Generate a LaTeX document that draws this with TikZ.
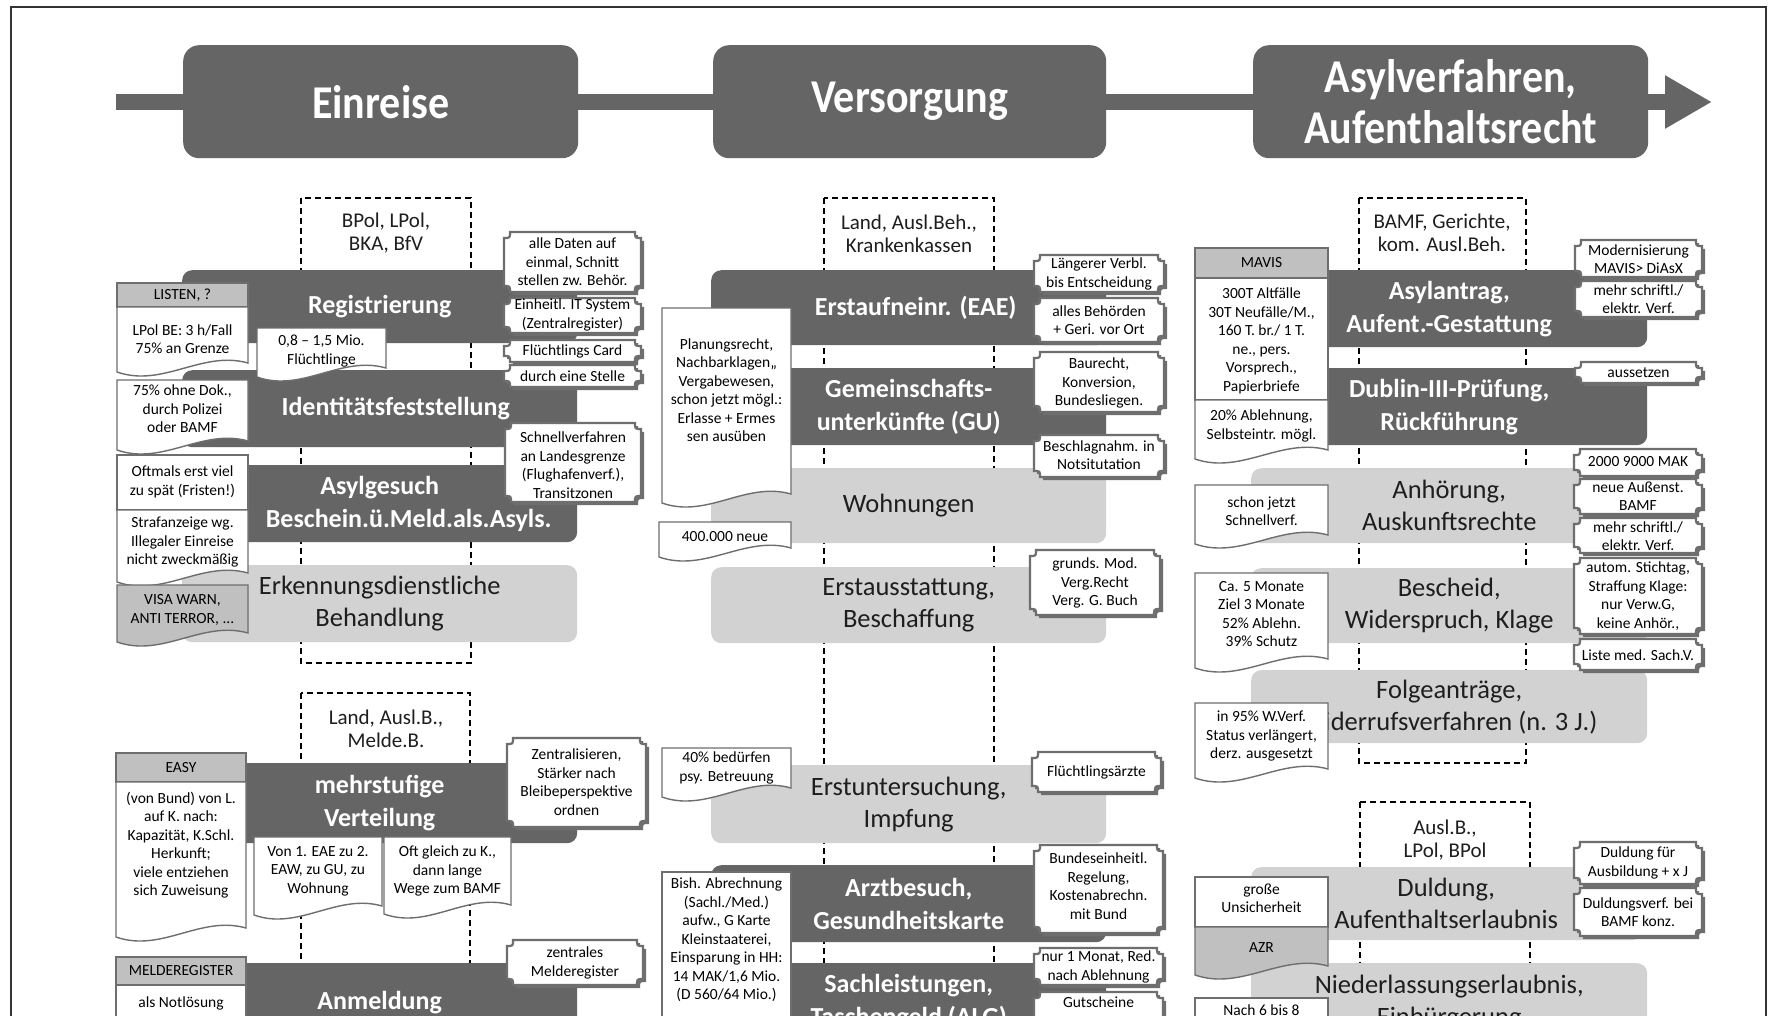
\documentclass[tikz,border=0pt]{standalone}
\usepackage{fontspec}
\setmainfont{Carlito}
\usepackage{graphicx}
\usetikzlibrary{arrows.meta}
\definecolor{dk}{HTML}{656565}
\definecolor{lt}{HTML}{D2D2D2}
\definecolor{hd}{HTML}{C0C0C0}
\definecolor{ln}{HTML}{6E6E6E}
\definecolor{tx}{HTML}{1E1E1E}
\tikzset{
 dkbox/.style={fill=dk, rounded corners=10pt, anchor=north west, inner sep=0pt, align=center, text=white, font=\fontsize{26}{33}\selectfont\bfseries},
 ltbox/.style={fill=lt, rounded corners=10pt, anchor=north west, inner sep=0pt, align=center, text=tx, font=\fontsize{26.5}{32}\selectfont},
 phase/.style={fill=dk, rounded corners=16pt, anchor=north west, inner sep=0pt, align=center, text=white, font=\fontsize{42}{51}\selectfont\bfseries},
 acttext/.style={align=center, inner sep=0pt, font=\fontsize{21}{23}\selectfont, text=tx},
 dashbox/.style={draw=black, line width=1.8pt, dash pattern=on 6pt off 4pt},
 smalltext/.style={align=center, inner sep=0pt, font=\fontsize{15.5}{18.5}\selectfont, text=black},
 wnote/.style={fill=white, draw=ln, line width=1.4pt},
 gnote/.style={fill=hd, draw=ln, line width=1.4pt},
 plqline/.style={fill=white, draw=ln, line width=2.2pt},
 plqshadow/.style={fill=ln},
 timeline/.style={draw=dk, line width=16pt, -{Triangle[length=47pt,width=50pt]}},
}
% document-shaped note: style, name, x1, y1, x2, y2, text y, text
\newcommand{\docnote}[8]{%
  \path[#1] ({#3},{#4}) -- ({#5},{#4}) -- ({#5},{#6-9}) .. controls ({#5-0.35*(#5-#3)},{#6-22}) and ({#3+0.35*(#5-#3)},{#6+16}) .. ({#3},{#6}) -- cycle;
  \node[smalltext] (#2) at ({(#3+#5)/2},{#7}) {#8};
}
% rectangular note: style, name, x1, y1, x2, y2, text y, text
\newcommand{\rectnote}[8]{%
  \path[#1] ({#3},{#4}) rectangle ({#5},{#6});
  \node[smalltext] (#2) at ({(#3+#5)/2},{#7}) {#8};
}
% plaque callout: name, x1, y1, x2, y2, text y, text
\newcommand{\plaquebox}[7]{%
  \path[plqshadow, shift={(3,3)}] ({#2+6},{#3}) -- ({#4-6},{#3}) .. controls ({#4-6},{#3+6}) .. ({#4},{#3+6}) -- ({#4},{#5-6}) .. controls ({#4-6},{#5-6}) .. ({#4-6},{#5}) -- ({#2+6},{#5}) .. controls ({#2+6},{#5-6}) .. ({#2},{#5-6}) -- ({#2},{#3+6}) .. controls ({#2+6},{#3+6}) .. ({#2+6},{#3}) -- cycle;
  \path[plqline] ({#2+6},{#3}) -- ({#4-6},{#3}) .. controls ({#4-6},{#3+6}) .. ({#4},{#3+6}) -- ({#4},{#5-6}) .. controls ({#4-6},{#5-6}) .. ({#4-6},{#5}) -- ({#2+6},{#5}) .. controls ({#2+6},{#5-6}) .. ({#2},{#5-6}) -- ({#2},{#3+6}) .. controls ({#2+6},{#3+6}) .. ({#2+6},{#3}) -- cycle;
  \node[smalltext] (#1) at ({(#2+#4)/2},{#6}) {#7};
}
\begin{document}
\begin{tikzpicture}[x=1pt,y=-1pt]
\useasboundingbox (0,0) rectangle (1769,1015);
\fill[white] (0,0) rectangle (1769,1015);
\clip (0,0) rectangle (1769,1015);
% frame
\draw[line width=1.5pt, black!80] (11,1030) -- (11,7) -- (1766,7) -- (1766,1030);
% timeline
\coordinate (tl0) at (116,102);
\coordinate (tl1) at (1712,102);
\draw[timeline] (tl0) -- (tl1);
% phases
\node[phase, minimum width=395pt, minimum height=113pt] (ph1) at (183,45) {\scalebox{1}[1.12]{Einreise}};
\node[phase, minimum width=393pt, minimum height=113pt] (ph2) at (713,45) {\scalebox{1}[1.12]{Versorgung}};
\node[phase, minimum width=395pt, minimum height=113pt] (ph3) at (1253,45) {\scalebox{1}[1.12]{Asylverfahren,}\\\scalebox{1}[1.12]{Aufenthaltsrecht}};
% actor dashed boxes
\draw[dashbox] (301,198) rectangle (471,663);
\draw[dashbox] (301,693) rectangle (470,1060);
\draw[dashbox] (824,198) rectangle (994,1060);
\draw[dashbox] (1359,198) rectangle (1526,763);
\draw[dashbox] (1360,802) rectangle (1530,1060);
\node[acttext] (actA) at (386,233) {BPol, LPol,\\BKA, BfV};
\node[acttext] (actB) at (386,729) {Land, Ausl.B.,\\Melde.B.};
\node[acttext] (actC) at (909,234) {Land, Ausl.Beh.,\\Krankenkassen};
\node[acttext] (actD) at (1442,233) {BAMF, Gerichte,\\kom. Ausl.Beh.};
\node[acttext] (actE) at (1445,840) {Ausl.B.,\\LPol, BPol};
% left column process boxes
\node[dkbox, minimum width=395pt, minimum height=73pt] (reg) at (182,270) {Registrierung};
\node[dkbox, minimum width=395pt, minimum height=77pt] (ident) at (182,370) {\hspace*{32pt}Identitätsfeststellung};
\node[dkbox, minimum width=395pt, minimum height=77pt] (asylg) at (182,465) {Asylgesuch\\\hspace*{58pt}Beschein.ü.Meld.als.Asyls.};
\node[ltbox, minimum width=395pt, minimum height=77pt] (erk) at (182,565) {Erkennungsdienstliche\\Behandlung};
\node[dkbox, minimum width=395pt, minimum height=80pt] (vert) at (182,763) {mehrstufige\\Verteilung};
\node[dkbox, minimum width=395pt, minimum height=78pt] (anm) at (182,963) {Anmeldung};
% middle column process boxes
\node[dkbox, minimum width=395pt, minimum height=75pt] (eae) at (711,270) {\hspace*{14pt}Erstaufneinr. (EAE)};
\node[dkbox, minimum width=395pt, minimum height=77pt] (gu) at (711,368) {Gemeinschafts-\\unterkünfte (GU)};
\node[ltbox, minimum width=395pt, minimum height=75pt] (wohn) at (711,468) {Wohnungen};
\node[ltbox, minimum width=395pt, minimum height=76pt] (erst) at (711,567) {Erstausstattung,\\Beschaffung};
\node[ltbox, minimum width=395pt, minimum height=78pt] (unters) at (711,765) {Erstuntersuchung,\\Impfung};
\node[dkbox, minimum width=395pt, minimum height=77pt] (arzt) at (711,865) {Arztbesuch,\\Gesundheitskarte};
\node[dkbox, minimum width=395pt, minimum height=78pt] (sach) at (711,963) {Sachleistungen,\\Taschengeld (ALG)};
% right column process boxes
\node[dkbox, minimum width=396pt, minimum height=77pt] (asyla) at (1251,270) {Asylantrag,\\Aufent.-Gestattung};
\node[dkbox, minimum width=396pt, minimum height=77pt] (dublin) at (1251,368) {Dublin-III-Prüfung,\\Rückführung};
\node[ltbox, minimum width=396pt, minimum height=75pt] (anh) at (1251,468) {Anhörung,\\Auskunftsrechte};
\node[ltbox, minimum width=396pt, minimum height=75pt] (besch) at (1251,568) {Bescheid,\\Widerspruch, Klage};
\node[ltbox, minimum width=396pt, minimum height=73pt] (folge) at (1251,670) {Folgeanträge,\\Widerrufsverfahren (n. 3 J.)};
\node[ltbox, minimum width=390pt, minimum height=73pt] (duld) at (1251,867) {Duldung,\\Aufenthaltserlaubnis};
\node[ltbox, minimum width=396pt, minimum height=78pt] (nied) at (1251,963) {Niederlassungserlaubnis,\\Einbürgerung};
% left column notes
\rectnote{gnote}{listen}{117}{283}{248}{307}{295}{LISTEN, ?}
\docnote{wnote}{lpol}{117}{307}{248}{372}{339}{LPol BE: 3 h/Fall\\75\% an Grenze}
\docnote{wnote}{ohne}{117}{380}{248}{450}{409}{75\% ohne Dok.,\\durch Polizei\\oder BAMF}
\rectnote{wnote}{oft}{117}{455}{248}{510}{482}{Oftmals erst viel\\zu spät (Fristen!)}
\docnote{wnote}{straf}{117}{510}{248}{582}{542}{Strafanzeige wg.\\Illegaler Einreise\\nicht zweckmäßig}
\docnote{gnote}{visa}{117}{585}{248}{642}{610}{VISA WARN,\\ANTI TERROR, ...}
\docnote{wnote}{mio}{257}{328}{386}{377}{351}{0,8 – 1,5 Mio.\\Flüchtlinge}
\rectnote{gnote}{easy}{116}{753}{246}{782}{768}{EASY}
\docnote{wnote}{easyn}{116}{782}{246}{937}{845}{(von Bund) von L.\\auf K. nach:\\Kapazität, K.Schl.\\Herkunft;\\viele entziehen\\sich Zuweisung}
\docnote{wnote}{eaez}{254}{837}{382}{915}{871}{Von 1. EAE zu 2.\\EAW, zu GU, zu\\Wohnung}
\docnote{wnote}{wege}{384}{837}{511}{914}{871}{Oft gleich zu K.,\\dann lange\\Wege zum BAMF}
\rectnote{gnote}{melde}{116}{957}{246}{985}{971}{MELDEREGISTER}
\rectnote{wnote}{notl}{116}{985}{246}{1060}{1003}{als Notlösung}
% left column plaques
\plaquebox{pa}{504}{232}{641}{292}{262}{alle Daten auf\\einmal, Schnitt\\stellen zw. Behör.}
\plaquebox{pb}{504}{298}{641}{333}{315}{Einheitl. IT System\\(Zentralregister)}
\plaquebox{pc}{504}{340}{641}{362}{351}{Flüchtlings Card}
\plaquebox{pd}{504}{365}{641}{387}{376}{durch eine Stelle}
\plaquebox{pe}{505}{423}{641}{502}{465}{Schnellverfahren\\an Landesgrenze\\(Flughafenverf.),\\Transitzonen}
\plaquebox{pf}{507}{738}{646}{827}{782}{Zentralisieren,\\Stärker nach\\Bleibeperspektive\\ordnen}
\plaquebox{pg}{507}{940}{643}{985}{963}{zentrales\\Melderegister}
% middle column notes
\docnote{wnote}{plan}{662}{308}{791}{503}{390}{Planungsrecht,\\Nachbarklagen,,\\Vergabewesen,\\schon jetzt mögl.:\\Erlasse + Ermes\\sen ausüben}
\docnote{wnote}{neu}{659}{522}{791}{557}{537}{400.000 neue}
\docnote{wnote}{psy}{662}{748}{791}{797}{768}{40\% bedürfen\\psy. Betreuung}
\rectnote{wnote}{bish}{662}{872}{791}{1060}{940}{Bish. Abrechnung\\(Sachl./Med.)\\aufw., G Karte\\Kleinstaaterei,\\Einsparung in HH:\\14 MAK/1,6 Mio.\\(D 560/64 Mio.)}
% middle column plaques
\plaquebox{pm1}{1034}{255}{1164}{292}{274}{Längerer Verbl.\\bis Entscheidung}
\plaquebox{pm2}{1034}{298}{1164}{342}{320}{alles Behörden\\+ Geri. vor Ort}
\plaquebox{pm3}{1034}{352}{1164}{412}{383}{Baurecht,\\Konversion,\\Bundesliegen.}
\plaquebox{pm4}{1034}{435}{1164}{477}{455}{Beschlagnahm. in\\Notsitutation}
\plaquebox{pm5}{1030}{550}{1160}{615}{583}{grunds. Mod.\\Verg.Recht\\Verg. G. Buch}
\plaquebox{pm6}{1032}{752}{1161}{792}{772}{Flüchtlingsärzte}
\plaquebox{pm7}{1034}{845}{1163}{933}{886}{Bundeseinheitl.\\Regelung,\\Kostenabrechn.\\mit Bund}
\plaquebox{pm8}{1034}{948}{1163}{985}{967}{nur 1 Monat, Red.\\nach Ablehnung}
\plaquebox{pm9}{1034}{992}{1163}{1060}{1002}{Gutscheine}
% right column notes
\rectnote{gnote}{mavis}{1195}{248}{1328}{278}{263}{MAVIS}
\rectnote{wnote}{alt}{1195}{278}{1328}{400}{341}{300T Altfälle\\30T Neufälle/M.,\\160 T. br./ 1 T.\\ne., pers.\\Vorsprech.,\\Papierbriefe}
\docnote{wnote}{abl}{1195}{400}{1328}{459}{426}{20\% Ablehnung,\\Selbsteintr. mögl.}
\docnote{wnote}{schon}{1195}{485}{1328}{544}{511}{schon jetzt\\Schnellverf.}
\docnote{wnote}{ca}{1195}{573}{1328}{668}{614}{Ca. 5 Monate\\Ziel 3 Monate\\52\% Ablehn.\\39\% Schutz}
\docnote{wnote}{wv}{1195}{703}{1328}{778}{736}{in 95\% W.Verf.\\Status verlängert,\\derz. ausgesetzt}
\rectnote{wnote}{gross}{1195}{877}{1328}{927}{898}{große\\Unsicherheit}
\docnote{gnote}{azr}{1195}{927}{1328}{975}{948}{AZR}
\rectnote{wnote}{nach}{1195}{998}{1328}{1060}{1010}{Nach 6 bis 8}
% right column plaques
\plaquebox{pr1}{1575}{240}{1702}{277}{259}{Modernisierung\\MAVIS> DiAsX}
\plaquebox{pr2}{1575}{281}{1702}{317}{299}{mehr schriftl./\\elektr. Verf.}
\plaquebox{pr3}{1575}{362}{1702}{383}{373}{aussetzen}
\plaquebox{pr4}{1574}{449}{1702}{476}{462}{2000 9000 MAK}
\plaquebox{pr5}{1574}{479}{1702}{514}{496}{neue Außenst.\\BAMF}
\plaquebox{pr6}{1574}{518}{1702}{553}{536}{mehr schriftl./\\elektr. Verf.}
\plaquebox{pr7}{1574}{558}{1702}{634}{596}{autom. Stichtag,\\Straffung Klage:\\nur Verw.G,\\keine Anhör.,}
\plaquebox{pr8}{1574}{639}{1702}{670}{655}{Liste med. Sach.V.}
\plaquebox{pr9}{1574}{842}{1702}{884}{863}{Duldung für\\Ausbildung + x J}
\plaquebox{pr10}{1574}{888}{1702}{936}{912}{Duldungsverf. bei\\BAMF konz.}
\end{tikzpicture}
\end{document}
